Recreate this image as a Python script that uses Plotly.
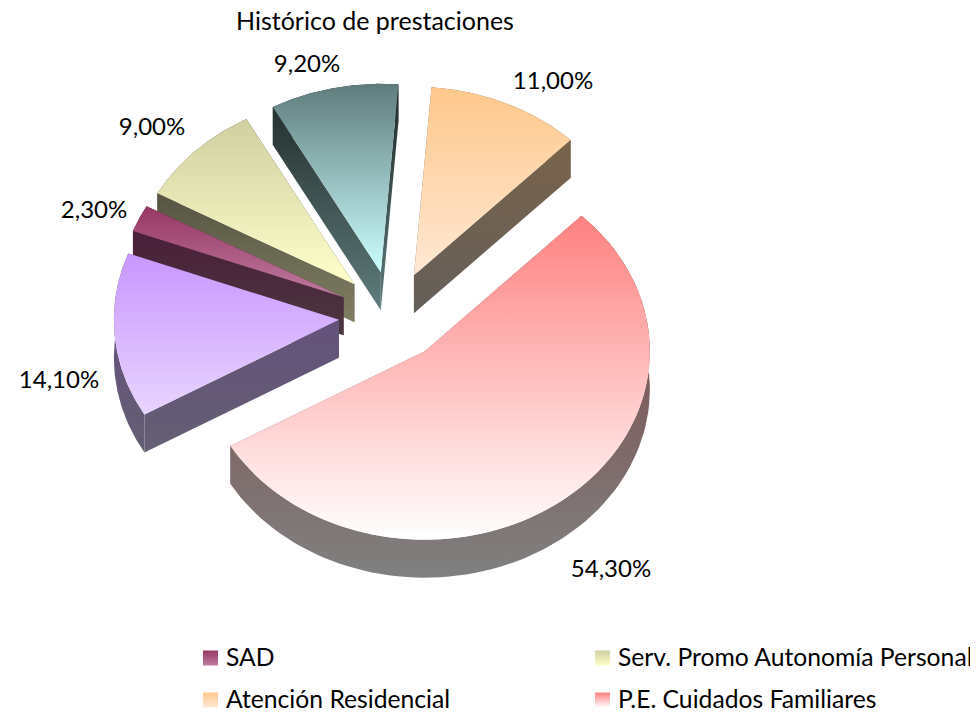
import numpy as np
import plotly.graph_objects as go

# ---- data (clockwise from the SAD slice) ----
categories = ["SAD", "Serv. Promo Autonomía Personal", "(sin leyenda A)",
              "Atención Residencial", "P.E. Cuidados Familiares", "(sin leyenda B)"]
values = [2.3, 9.0, 9.2, 11.0, 54.3, 14.1]
legend_items = [0, 1, 3, 4]
title_text = "Histórico de prestaciones"

# ---- style ----
top_colors = [("#963764", "#C07BA0"), ("#CFCFA0", "#FFFFCC"), ("#5F7C7C", "#CCFFFF"),
              ("#FFC88C", "#FFE8D4"), ("#FF8080", "#FFFFFF"), ("#C896FF", "#E8D4FF")]
wall_colors = [("#4B1937", "#4B3740"), ("#3E3C2D", "#807F64"), ("#1E2826", "#5F7C7C"),
               ("#806446", "#645F5A"), ("#7D4040", "#808080"), ("#644B80", "#645F73")]
draw_order = [2, 3, 1, 0, 5, 4]
label_xy = [(94, 212), (152, 129), (307, 66), (553, 83), (611, 571), (59, 382)]
legend_xy = [(210.5, 658), (602.5, 658), (210.5, 700), (602.5, 700)]
LEGEND_TEXT_DX, LEGEND_TEXT_DY = 15.5, 2

CX, CY, RX, RY, DEPTH, EXPLODE = 392, 316, 225, 188.5, 38, 0.237
START_DEG = 290.6
PAGE_MARGIN = 8          # the page body offsets the figure by this many pixels
FONT = "Lato"
TXT = "#000000"


def pt(cx, cy, deg):
    a = np.radians(deg)
    return cx + RX * np.sin(a), cy - RY * np.cos(a)


def grad(pair, y0, y1):
    return dict(type="vertical", start=y0, stop=y1,
                colorscale=[[0, pair[0]], [1, pair[1]]])


def poly(fig, xs, ys, pair, y0, y1):
    fig.add_trace(go.Scatter(x=list(xs), y=list(ys), mode="lines", line=dict(width=0),
                             fill="toself", fillgradient=grad(pair, y0, y1),
                             hoverinfo="skip", showlegend=False))


fig = go.Figure()
total = sum(values)
ends = START_DEG + np.cumsum(values) / total * 360
starts = ends - np.array(values) / total * 360

for i in draw_order:
    a0, a1 = starts[i], ends[i]
    mid = np.radians((a0 + a1) / 2)
    ax = CX + EXPLODE * RX * np.sin(mid)
    ay = CY - EXPLODE * RY * np.cos(mid)
    t = np.linspace(a0, a1, 90)
    arcx, arcy = pt(ax, ay, t)
    top_y0, top_y1 = min(arcy.min(), ay), max(arcy.max(), ay)
    wy0, wy1 = top_y0, top_y1 + DEPTH
    # radial cut faces
    for ex, ey in [(arcx[0], arcy[0]), (arcx[-1], arcy[-1])]:
        poly(fig, [ax, ex, ex, ax, ax], [ay, ey, ey + DEPTH, ay + DEPTH, ay],
             wall_colors[i], wy0, wy1)
    # outer rim
    poly(fig, np.r_[arcx, arcx[::-1], arcx[0]], np.r_[arcy, arcy[::-1] + DEPTH, arcy[0]],
         wall_colors[i], wy0, wy1)
    # top face
    poly(fig, np.r_[ax, arcx, ax], np.r_[ay, arcy, ay], top_colors[i], top_y0, top_y1)

# value labels
fig.add_trace(go.Scatter(
    x=[p[0] for p in label_xy], y=[p[1] for p in label_xy], mode="text",
    text=[f"{v:.2f}".replace(".", ",") + "%" for v in values],
    textposition="middle center", textfont=dict(family=FONT, size=24, color=TXT),
    hoverinfo="skip", showlegend=False))

# legend keys with their names
for i, (lx, ly) in zip(legend_items, legend_xy):
    fig.add_trace(go.Scatter(
        x=[lx], y=[ly], mode="markers", name=categories[i],
        marker=dict(symbol="square", size=15, color=top_colors[i][0],
                    gradient=dict(type="vertical", color=top_colors[i][1])),
        hoverinfo="skip", showlegend=False, cliponaxis=False))
    fig.add_trace(go.Scatter(
        x=[lx + LEGEND_TEXT_DX], y=[ly + LEGEND_TEXT_DY], mode="text", text=[categories[i]],
        textposition="middle right", textfont=dict(family=FONT, size=24.7, color=TXT),
        hoverinfo="skip", showlegend=False, cliponaxis=False))

fig.update_layout(
    width=978, height=712, margin=dict(l=0, r=0, t=0, b=0),
    paper_bgcolor="white", plot_bgcolor="white", showlegend=False,
    xaxis=dict(range=[PAGE_MARGIN, 978 + PAGE_MARGIN], visible=False, fixedrange=True),
    yaxis=dict(range=[712 + PAGE_MARGIN, PAGE_MARGIN], visible=False, fixedrange=True),
    title=dict(text=title_text, x=(375 - PAGE_MARGIN) / 978, xanchor="center",
               xref="paper", y=1 - (21 - PAGE_MARGIN) / 712, yref="container", yanchor="middle",
               font=dict(family=FONT, size=25, color=TXT)),
)
fig.write_html("out.html")
